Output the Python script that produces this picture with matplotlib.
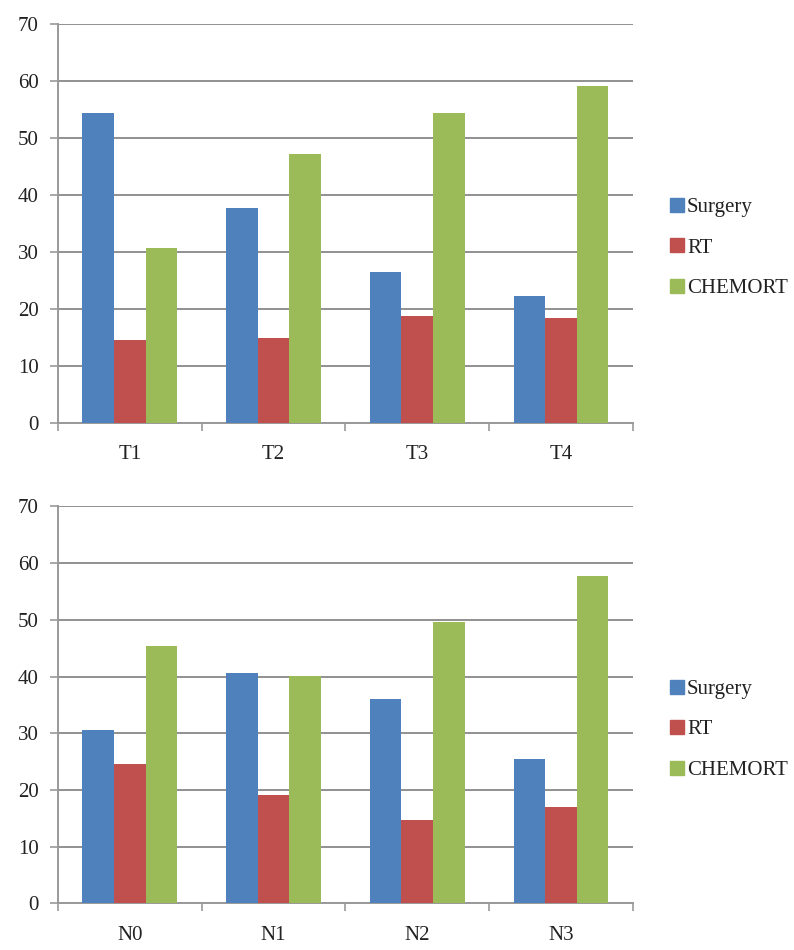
import matplotlib.pyplot as plt
import numpy as np

# percentages by treatment, split by T stage and by N stage
t_stages = ['T1', 'T2', 'T3', 'T4']
t_surgery = [54.4, 37.6, 26.4, 22.3]
t_rt = [14.6, 14.9, 18.8, 18.3]
t_chemort = [30.6, 47.1, 54.3, 59.0]

n_stages = ['N0', 'N1', 'N2', 'N3']
n_surgery = [30.5, 40.7, 36.0, 25.5]
n_rt = [24.5, 19.2, 14.7, 17.0]
n_chemort = [45.3, 40.1, 49.7, 57.8]

series = ['Surgery', 'RT', 'CHEMORT']
colors = ['#4F81BD', '#C0504D', '#9BBB59']

plt.rcParams['font.family'] = ['Liberation Serif', 'DejaVu Serif']
plt.rcParams['font.size'] = 15
plt.rcParams['text.color'] = '#222222'
plt.rcParams['xtick.labelcolor'] = '#222222'
plt.rcParams['ytick.labelcolor'] = '#222222'

fig = plt.figure(figsize=(7.94, 9.5), dpi=100)


def draw_panel(rect, cats, groups, legend_y):
    ax = fig.add_axes(rect)
    x = np.arange(len(cats))
    w = 0.22
    for k, (vals, c) in enumerate(zip(groups, colors)):
        ax.bar(x + (k - 1) * w, vals, w, color=c, zorder=3)
    ax.set_xlim(-0.5, len(cats) - 0.5)
    ax.set_ylim(0, 70)
    ax.set_yticks(range(0, 71, 10))
    ax.yaxis.grid(True, color='#909090', linewidth=1.4, zorder=0)
    ax.set_xticks(x)
    ax.set_xticklabels(cats)
    ax.set_xticks(np.arange(-0.5, len(cats)), minor=True)
    ax.tick_params(axis='x', which='major', length=0, pad=16)
    ax.tick_params(axis='x', which='minor', length=6, width=1.2, color='#999999')
    ax.tick_params(axis='y', length=6, width=1.2, color='#999999', pad=8)
    for s in ['top', 'right']:
        ax.spines[s].set_visible(False)
    for s in ['left', 'bottom']:
        ax.spines[s].set_color('#999999')
        ax.spines[s].set_linewidth(1.4)
    handles = [plt.Line2D([], [], marker='s', linestyle='', color=c, markersize=10)
               for c in colors]
    fig.legend(handles, series, loc='center left', bbox_to_anchor=(0.826, legend_y),
               frameon=False, handlelength=0.6, handletextpad=0.2, labelspacing=1.0,
               borderpad=0.2)
    return ax


draw_panel([0.073, 0.555, 0.724, 0.42], t_stages, [t_surgery, t_rt, t_chemort], 0.739)
draw_panel([0.073, 0.049, 0.724, 0.418], n_stages, [n_surgery, n_rt, n_chemort], 0.232)

plt.savefig('out.png', dpi=100)
